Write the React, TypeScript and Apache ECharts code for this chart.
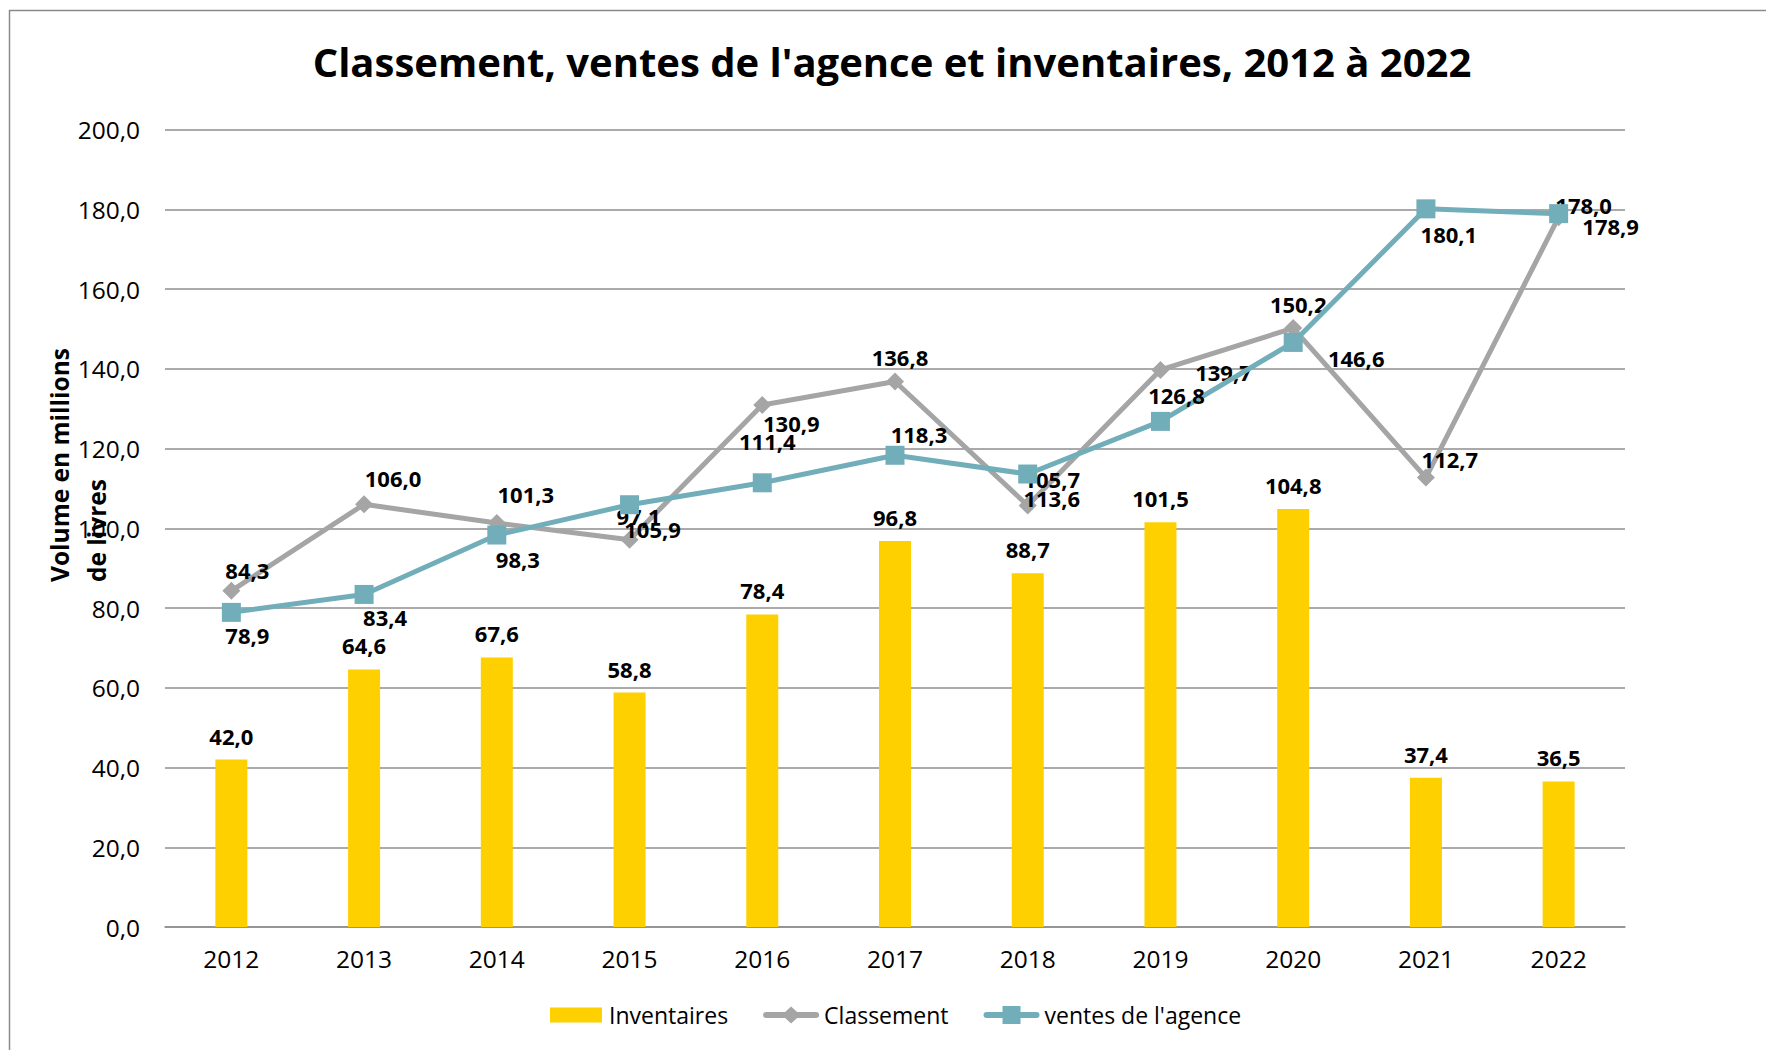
import React, { useEffect, useRef } from "react";
import * as echarts from "echarts";

const years = ["2012", "2013", "2014", "2015", "2016", "2017", "2018", "2019", "2020", "2021", "2022"];
const inventaires = [42.0, 64.6, 67.6, 58.8, 78.4, 96.8, 88.7, 101.5, 104.8, 37.4, 36.5];
const classement = [84.3, 106.0, 101.3, 97.1, 130.9, 136.8, 105.7, 139.7, 150.2, 112.7, 178.0];
const ventes = [78.9, 83.4, 98.3, 105.9, 111.4, 118.3, 113.6, 126.8, 146.6, 180.1, 178.9];

// label offsets (pixels) relative to the marker centre
const classementLabelOffsets = [
  [16, -21], [29, -26], [29, -29], [9, -24], [29, 18], [5, -25],
  [24, -27], [63, 2], [5, -24], [24, -19], [25, -12],
];
const ventesLabelOffsets = [
  [16, 23], [21, 23], [21, 24], [23, 24], [5, -42], [24, -21],
  [24, 24], [16, -26], [63, 16], [23, 25], [52, 12],
];

const fmt = (v: number) => v.toFixed(1).replace(".", ",");
const FONT = "'Open Sans', sans-serif";
const YELLOW = "#FFD000";
const GRAY = "#A5A5A5";
const TEAL = "#72AEBA";
const GRID = "#8E8E8E";

// legend icons (56 x 18 box)
const ICON_BAR = "path://M0,0 M56,18 M2,1.5 H54 V16.5 H2 Z";
const ICON_DIAMOND =
  "path://M0,0 M56,18 M3,6 H22 L28,0.5 L34,6 H53 A3,3 0 0 1 53,12 H34 L28,17.5 L22,12 H3 A3,3 0 0 1 3,6 Z";
const ICON_SQUARE =
  "path://M0,0 M56,18 M3,6 H19 V0 H37 V6 H53 A3,3 0 0 1 53,12 H37 V18 H19 V12 H3 A3,3 0 0 1 3,6 Z";

export default function App() {
  const ref = useRef<HTMLDivElement>(null);
  useEffect(() => {
    if (!ref.current) return;
    const chart = echarts.init(ref.current, null, { renderer: "svg" });
    const lineLabel = {
      show: true,
      position: "inside",
      color: "#000",
      fontFamily: FONT,
      fontWeight: "bold",
      fontSize: 22,
      formatter: (p: any) => fmt(p.value),
    };
    chart.setOption({
      animation: false,
      backgroundColor: "#fff",
      textStyle: { fontFamily: FONT },
      grid: { left: 165, right: 141, top: 129.5, bottom: 123, containLabel: false },
      graphic: [
        {
          type: "rect",
          shape: { x: 9.5, y: 10.5, width: 1800, height: 1100 },
          style: { fill: "none", stroke: "#8A8A8A", lineWidth: 1.5 },
          silent: true,
        },
        {
          type: "text",
          x: 892,
          y: 61,
          style: {
            text: "Classement, ventes de l'agence et inventaires, 2012 à 2022",
            font: `bold 40px ${FONT}`,
            fill: "#000",
            textAlign: "center",
            textVerticalAlign: "middle",
          },
        },
        {
          type: "text",
          x: 78,
          y: 582,
          rotation: Math.PI / 2,
          style: {
            text: "Volume en millions\nde livres",
            font: `bold 24.5px ${FONT}`,
            lineHeight: 37,
            fill: "#000",
            textAlign: "left",
            textVerticalAlign: "middle",
          },
        },
      ],
      legend: {
        left: 543,
        top: 998,
        itemWidth: 56,
        itemHeight: 18,
        itemGap: 35,
        textStyle: { fontFamily: FONT, fontSize: 23, color: "#000", lineHeight: 24 },
        data: [
          { name: "Inventaires", icon: ICON_BAR },
          { name: "Classement", icon: ICON_DIAMOND },
          { name: "ventes de l'agence", icon: ICON_SQUARE },
        ],
      },
      xAxis: {
        type: "category",
        data: years,
        axisLine: { lineStyle: { color: GRID, width: 1.5 } },
        axisTick: { show: false },
        axisLabel: { color: "#000", fontSize: 24.5, fontFamily: FONT, margin: 19 },
      },
      yAxis: {
        type: "value",
        min: 0,
        max: 200,
        interval: 20,
        axisLine: { show: false },
        axisTick: { show: false },
        splitLine: { lineStyle: { color: GRID, width: 1.5 } },
        axisLabel: {
          color: "#000",
          fontSize: 24.5,
          fontFamily: FONT,
          margin: 25,
          formatter: (v: number) => fmt(v),
        },
      },
      series: [
        {
          name: "Inventaires",
          type: "bar",
          data: inventaires,
          barWidth: 32,
          itemStyle: { color: YELLOW },
          label: {
            show: true,
            position: "top",
            distance: 13,
            color: "#000",
            fontFamily: FONT,
            fontWeight: "bold",
            fontSize: 22,
            formatter: (p: any) => fmt(p.value),
          },
        },
        {
          name: "Classement",
          type: "line",
          data: classement.map((v, i) => ({
            value: v,
            label: { offset: classementLabelOffsets[i] },
          })),
          symbol: "diamond",
          symbolSize: 18,
          lineStyle: { color: GRAY, width: 5 },
          itemStyle: { color: GRAY },
          label: lineLabel,
          z: 3,
        },
        {
          name: "ventes de l'agence",
          type: "line",
          data: ventes.map((v, i) => ({
            value: v,
            label: { offset: ventesLabelOffsets[i] },
          })),
          symbol: "rect",
          symbolSize: 19,
          lineStyle: { color: TEAL, width: 5 },
          itemStyle: { color: TEAL },
          label: lineLabel,
          z: 4,
        },
      ],
    });
    return () => chart.dispose();
  }, []);
  return (
    <div
      ref={ref}
      style={{ position: "fixed", left: 0, top: 0, width: 1766, height: 1050 }}
    />
  );
}
